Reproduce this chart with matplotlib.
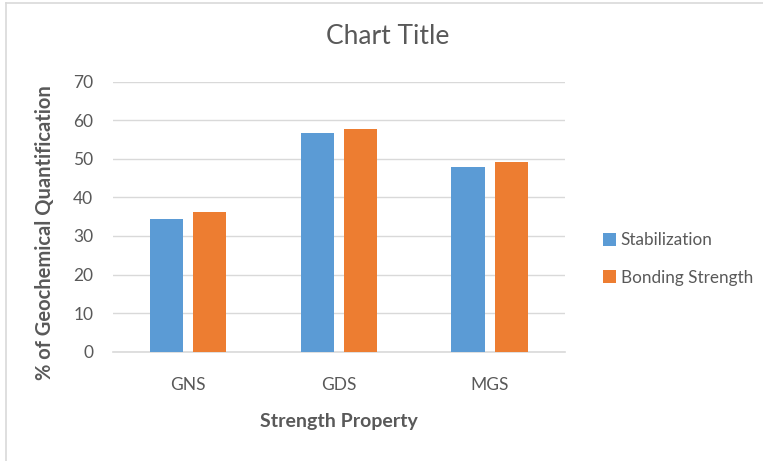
import matplotlib
matplotlib.use("Agg")
import matplotlib.pyplot as plt
import numpy as np
from matplotlib.lines import Line2D

categories = ["GNS", "GDS", "MGS"]
stabilization = [34.3, 56.6, 47.8]
bonding_strength = [36.3, 57.7, 49.1]
series_names = ["Stabilization", "Bonding Strength"]
yticks = [0, 10, 20, 30, 40, 50, 60, 70]

plt.rcParams['font.family'] = ['Lato', 'DejaVu Sans']
txt = '#595959'
blue = '#5b9bd5'
orange = '#ed7d31'

fig = plt.figure(figsize=(7.63, 4.61), dpi=100)
ax = fig.add_axes([112.7/763, 1-351.7/461, (565-112.7)/763, (351.7-81.7)/461])

x = np.arange(len(categories))
w = 0.22
off = 0.143
ax.bar(x - off, stabilization, w, color=blue, label=series_names[0], zorder=3)
ax.bar(x + off, bonding_strength, w, color=orange, label=series_names[1], zorder=3)

ax.set_xlim(-0.5, 2.5)
ax.set_ylim(0, 70)
ax.set_yticks(yticks)
ax.set_xticks(x)
ax.set_xticklabels(categories)
ax.yaxis.grid(True, color='#d9d9d9', linewidth=1.0, zorder=0)
for s in ['top', 'right', 'left']:
    ax.spines[s].set_visible(False)
ax.spines['bottom'].set_color('#d9d9d9')
ax.spines['bottom'].set_linewidth(1.2)
ax.tick_params(axis='both', length=0, labelsize=12.5, colors=txt)
ax.tick_params(axis='y', pad=14)
ax.tick_params(axis='x', pad=18)

ax.set_xlabel("Strength Property", fontsize=14, fontweight='bold', color=txt)
ax.set_ylabel("% of Geochemical Quantification", fontsize=14.5, fontweight='bold', color=txt)
ax.xaxis.set_label_coords((338.5-112.7)/(565-112.7), -(422-351.7)/270)
ax.yaxis.set_label_coords(-(112.7-45)/(565-112.7), (351.7-233)/270)
ax.xaxis.label.set_va('center')
ax.yaxis.label.set_va('center')

fig.text(387.5/763, 1-37/461, "Chart Title", ha='center', va='center', fontsize=19, color=txt)

leg = fig.legend(loc='center left', bbox_to_anchor=(596/763, 1-259/461), frameon=False,
                 fontsize=12.3, labelcolor=txt, handlelength=0.75, handleheight=0.75,
                 handletextpad=0.3, labelspacing=1.25, borderaxespad=0)

fig.add_artist(Line2D([6/763, 6/763], [0, 1-3/461], color='#d9d9d9', linewidth=1.2))
fig.add_artist(Line2D([6/763, 1], [1-3/461, 1-3/461], color='#d9d9d9', linewidth=1.2))

fig.savefig("out.png", dpi=100)
